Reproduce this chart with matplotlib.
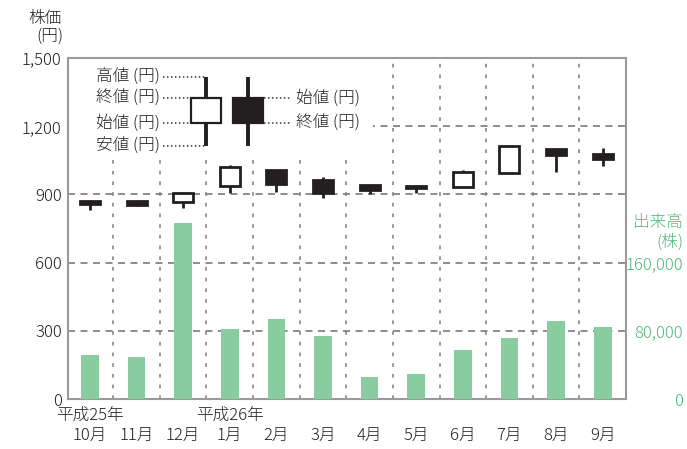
import matplotlib.pyplot as plt
from matplotlib.patches import Rectangle
from matplotlib.transforms import blended_transform_factory

plt.rcParams['font.family'] = ['Noto Sans CJK JP', 'DejaVu Sans']
plt.rcParams['font.weight'] = 'light'

# monthly data (平成25年10月 - 平成26年9月)
months = ["10月", "11月", "12月", "1月", "2月", "3月",
          "4月", "5月", "6月", "7月", "8月", "9月"]
opens = [869, 870, 866, 936, 1006, 962, 940, 938, 932, 992, 1098, 1079]
closes = [856, 855, 907, 1022, 944, 907, 919, 928, 1000, 1113, 1072, 1054]
highs = [869, 872, 910, 1030, 1008, 978, 940, 940, 1007, 1117, 1100, 1106]
lows = [830, 851, 842, 907, 912, 882, 900, 904, 932, 992, 998, 1025]
volumes = [52000, 49000, 207000, 82000, 94000, 74000,
           26000, 29000, 58000, 72000, 92000, 85000]

price_ticks = [0, 300, 600, 900, 1200, 1500]
volume_ticks = [0, 80000, 160000]

# sample candle for the explanation (high, body top, body bottom, low)
legend_candle = [1417, 1322, 1213, 1113]

BLACK = '#231f20'
GRID = '#7a7a7a'
GREEN_BAR = '#88cc9f'
GREEN_TXT = '#4fb878'
FS = 12

fig = plt.figure(figsize=(6.87, 4.49), dpi=100)
ax = fig.add_axes([68 / 687, 50 / 449, 558 / 687, 341 / 449])
ax.set_xlim(-0.47, 11.5)
ax.set_ylim(0, 1500)

# grid
for y in price_ticks[1:-1]:
    ax.axhline(y, color=GRID, lw=1.2, ls=(0, (4.2, 3.3)), zorder=1)
for i in range(len(months) - 1):
    ax.axvline(i + 0.5, color=GRID, lw=1.1, ls=(0, (2.4, 4.6)), zorder=1)

# white area behind the explanation
ax.add_patch(Rectangle((-0.47, 1063), 6.55, 420, facecolor='white',
                       edgecolor='none', zorder=2))

# candlesticks
for i in range(len(months)):
    o, c = opens[i], closes[i]
    ax.vlines(i, lows[i], highs[i], color=BLACK, lw=2, zorder=3)
    ax.bar(i, abs(c - o), bottom=min(o, c), width=0.43,
           facecolor='white' if c > o else BLACK, edgecolor=BLACK,
           lw=2, zorder=4)

# explanation candles
hi, top, bot, lo = legend_candle
for x, fc in [(2.49, 'white'), (3.39, BLACK)]:
    ax.vlines(x, lo, hi, color=BLACK, lw=2.8, zorder=3)
    ax.bar(x, top - bot, bottom=bot, width=0.65, facecolor=fc,
           edgecolor=BLACK, lw=1.6, zorder=4)

dot = dict(color='#333333', lw=1.1, ls=(0, (1, 1.6)), zorder=4)
for val, label, x_end in [(hi, "高値 (円)", 2.49), (top, "終値 (円)", 2.17),
                          (bot, "始値 (円)", 2.17), (lo, "安値 (円)", 2.49)]:
    ax.text(1.50, val, label, ha='right', va='center', fontsize=FS,
            color=BLACK, zorder=5)
    ax.plot([1.57, x_end], [val, val], **dot)
for val, label in [(top, "始値 (円)"), (bot, "終値 (円)")]:
    ax.plot([3.73, 4.29], [val, val], **dot)
    ax.text(4.42, val, label, ha='left', va='center', fontsize=FS,
            color=BLACK, zorder=5)

# axes styling
ax.set_yticks(price_ticks)
ax.set_yticklabels([f"{v:,}" for v in price_ticks])
ax.set_xticks(range(len(months)))
ax.set_xticklabels(months)
ax.tick_params(axis='y', length=0, pad=4.5, labelsize=FS, labelcolor=BLACK)
ax.tick_params(axis='x', length=0, pad=21, labelsize=FS, labelcolor=BLACK)
for s in ax.spines.values():
    s.set_color('#9a9a9a')
    s.set_linewidth(1.5)

trans = blended_transform_factory(ax.transData, ax.transAxes)
ax.text(0, -0.05, "平成25年", transform=trans, ha='center', va='center',
        fontsize=FS, color=BLACK)
ax.text(3, -0.05, "平成26年", transform=trans, ha='center', va='center',
        fontsize=FS, color=BLACK)

# volume bars
ax2 = ax.twinx()
ax2.set_ylim(0, 400000)
ax2.bar(range(len(months)), volumes, width=0.38, color=GREEN_BAR, zorder=2)
ax2.set_yticks(volume_ticks)
ax2.set_yticklabels([f"{v:,}" for v in volume_ticks])
ax2.tick_params(axis='y', length=0, pad=41, labelsize=FS, labelcolor=GREEN_TXT)
for lbl in ax2.get_yticklabels():
    lbl.set_horizontalalignment('right')
for s in ax2.spines.values():
    s.set_visible(False)

# axis titles
fig.text(62 / 687, 1 - 18 / 449, "株価", ha='right', va='center',
         fontsize=FS, color=BLACK)
fig.text(63 / 687, 1 - 36 / 449, "(円)", ha='right', va='center',
         fontsize=FS, color=BLACK)
fig.text(683 / 687, 1 - 222 / 449, "出来高", ha='right', va='center',
         fontsize=FS, color=GREEN_TXT)
fig.text(683 / 687, 1 - 242 / 449, "(株)", ha='right', va='center',
         fontsize=FS, color=GREEN_TXT)

fig.savefig("out.png", dpi=100)
